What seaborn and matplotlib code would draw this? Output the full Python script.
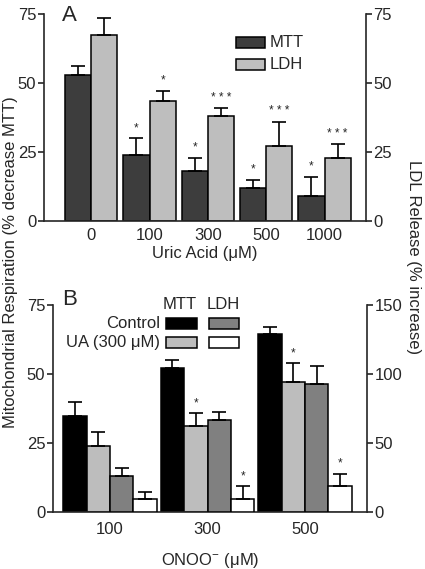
import numpy as np
import pandas as pd
import matplotlib
matplotlib.use("Agg")
import matplotlib.pyplot as plt
from matplotlib.patches import Rectangle
import seaborn as sns

# ---- Panel A data: uric acid dose response ----
dose_a = ["0", "100", "300", "500", "1000"]
mtt_a = [53, 24, 18, 12, 9]
mtt_a_err = [3.2, 6, 5, 3, 7]
mtt_a_sig = ["", "*", "*", "*", "*"]
ldh_a = [67.5, 43.5, 38, 27, 23]
ldh_a_err = [6, 3.7, 3, 9, 5]
ldh_a_sig = ["", "*", "* * *", "* * *", "* * *"]

# ---- Panel B data: ONOO- with / without UA ----
dose_b = ["100", "300", "500"]
ctrl_mtt_b = [34.8, 52.2, 64.4]
ctrl_mtt_b_err = [5.2, 2.9, 2.8]
ua_mtt_b = [24.0, 31.0, 47.0]
ua_mtt_b_err = [4.8, 4.8, 6.9]
ua_mtt_b_sig = ["", "*", "*"]
ctrl_ldh_b = [25.8, 66.8, 92.4]
ctrl_ldh_b_err = [6.0, 6.0, 13.5]
ua_ldh_b = [9.6, 9.6, 18.6]
ua_ldh_b_err = [4.6, 9.0, 9.1]
ua_ldh_b_sig = ["", "*", "*"]

COLORS_A = {"MTT": "#3d3d3d", "LDH": "#bebebe"}
HUE_B = ["Control MTT", "UA MTT", "Control LDH", "UA LDH"]
COLORS_B = {"Control MTT": "#000000", "UA MTT": "#bdbdbd",
            "Control LDH": "#808080", "UA LDH": "#ffffff"}

sns.set_style("ticks")
plt.rcParams["font.family"] = ["Liberation Sans", "DejaVu Sans"]
plt.rcParams["font.size"] = 12
plt.rcParams["axes.linewidth"] = 1.2
plt.rcParams["mathtext.fontset"] = "custom"
plt.rcParams["mathtext.rm"] = "Liberation Sans"


def add_errors(ax, container, vals, errs, sigs=None):
    xs = [b.get_x() + b.get_width() / 2 for b in container]
    ax.errorbar(xs, vals, yerr=[np.zeros(len(vals)), errs], fmt="none",
                ecolor="k", elinewidth=1.2, capsize=5, capthick=1.2, zorder=1)
    if sigs is None:
        return
    for x, v, e, s in zip(xs, vals, errs, sigs):
        if s:
            ax.annotate(s, (x, v + e), xytext=(0, 3), textcoords="offset points",
                        ha="center", va="bottom", fontsize=8.5)


def style_axes(ax, ax2):
    for side in ["top", "right"]:
        ax.spines[side].set_visible(False)
    for side in ["top", "left", "bottom"]:
        ax2.spines[side].set_visible(False)
    ax.tick_params(axis="y", direction="out", length=4, width=1.2, pad=1.5, labelsize=12)
    ax2.tick_params(axis="y", direction="out", length=4, width=1.2, pad=1.5, labelsize=12)
    ax.tick_params(axis="x", length=0, labelsize=12)


fig = plt.figure(figsize=(4.25, 5.69), dpi=100)

# ==============================================================
# Panel A
# ==============================================================
ax_a = fig.add_axes([0.1035, 0.6116, 0.7576, 0.3638])
df_a = pd.DataFrame({
    "dose": dose_a * 2,
    "assay": ["MTT"] * len(dose_a) + ["LDH"] * len(dose_a),
    "value": mtt_a + ldh_a,
})
sns.barplot(data=df_a, x="dose", y="value", hue="assay", order=dose_a,
            hue_order=["MTT", "LDH"], palette=COLORS_A, width=0.9,
            edgecolor="k", linewidth=1.1, errorbar=None, legend=False, ax=ax_a)
conts = [c for c in ax_a.containers if len(c) > 0]
add_errors(ax_a, conts[0], mtt_a, mtt_a_err, mtt_a_sig)
add_errors(ax_a, conts[1], ldh_a, ldh_a_err, ldh_a_sig)
ax_a.set_xlim(-0.81, 4.71)
ax_a.set_ylim(0, 75)
ax_a.set_yticks([0, 25, 50, 75])
ax_a.set_xlabel("Uric Acid (μM)", fontsize=12, labelpad=2)
ax_a.set_ylabel("")
ax_a2 = ax_a.twinx()
ax_a2.set_ylim(0, 75)
ax_a2.set_yticks([0, 25, 50, 75])
style_axes(ax_a, ax_a2)
ax_a.tick_params(axis="x", pad=5)
ax_a.text(0.056, 1.045, "A", transform=ax_a.transAxes, fontsize=16, va="top", ha="left")

# legend A
for i, (lab, col) in enumerate(COLORS_A.items()):
    yb = 0.836 - i * 0.107
    ax_a.add_patch(Rectangle((0.596, yb), 0.090, 0.053, transform=ax_a.transAxes,
                             facecolor=col, edgecolor="k", lw=1.1, clip_on=False))
    ax_a.text(0.700, yb + 0.026, lab, transform=ax_a.transAxes, va="center",
              ha="left", fontsize=12)

# ==============================================================
# Panel B
# ==============================================================
ax_b = fig.add_axes([0.1247, 0.1002, 0.7388, 0.3638])
df_mtt = pd.DataFrame({
    "dose": dose_b * 2,
    "group": ["Control MTT"] * 3 + ["UA MTT"] * 3,
    "value": ctrl_mtt_b + ua_mtt_b,
})
df_ldh = pd.DataFrame({
    "dose": dose_b * 2,
    "group": ["Control LDH"] * 3 + ["UA LDH"] * 3,
    "value": ctrl_ldh_b + ua_ldh_b,
})
sns.barplot(data=df_mtt, x="dose", y="value", hue="group", order=dose_b,
            hue_order=HUE_B, palette=COLORS_B, width=0.96,
            edgecolor="k", linewidth=1.1, errorbar=None, legend=False, ax=ax_b)
ax_b2 = ax_b.twinx()
sns.barplot(data=df_ldh, x="dose", y="value", hue="group", order=dose_b,
            hue_order=HUE_B, palette=COLORS_B, width=0.96,
            edgecolor="k", linewidth=1.1, errorbar=None, legend=False, ax=ax_b2)
cb = [c for c in ax_b.containers if len(c) > 0]
cb2 = [c for c in ax_b2.containers if len(c) > 0]
add_errors(ax_b, cb[0], ctrl_mtt_b, ctrl_mtt_b_err)
add_errors(ax_b, cb[1], ua_mtt_b, ua_mtt_b_err, ua_mtt_b_sig)
add_errors(ax_b2, cb2[0], ctrl_ldh_b, ctrl_ldh_b_err)
add_errors(ax_b2, cb2[1], ua_ldh_b, ua_ldh_b_err, ua_ldh_b_sig)
ax_b.set_xlim(-0.585, 2.636)
ax_b.set_ylim(0, 75)
ax_b.set_yticks([0, 25, 50, 75])
ax_b2.set_ylim(0, 150)
ax_b2.set_yticks([0, 50, 100, 150])
ax_b.set_xlabel("ONOO$^{\\mathregular{-}}$ (μM)", fontsize=12, labelpad=10)
ax_b.set_ylabel("")
ax_b2.set_ylabel("")
style_axes(ax_b, ax_b2)
ax_b.tick_params(axis="x", pad=7)
ax_b.text(0.029, 1.075, "B", transform=ax_b.transAxes, fontsize=16, va="top", ha="left")

# legend B (2 x 2 grid)
ax_b2.text(0.404, 1.0, "MTT", transform=ax_b.transAxes, ha="center", va="center", fontsize=12)
ax_b2.text(0.541, 1.0, "LDH", transform=ax_b.transAxes, ha="center", va="center", fontsize=12)
rows = [("Control", 0.884, 0.055, ["Control MTT", "Control LDH"]),
        ("UA (300 μM)", 0.794, 0.051, ["UA MTT", "UA LDH"])]
for lab, yb, h, keys in rows:
    for xl, w, k in zip([0.359, 0.498], [0.099, 0.095], keys):
        ax_b2.add_patch(Rectangle((xl, yb), w, h, transform=ax_b.transAxes,
                                  facecolor=COLORS_B[k], edgecolor="k", lw=1.1,
                                  clip_on=False))
    ax_b2.text(0.340, yb + h / 2, lab, transform=ax_b.transAxes, ha="right",
               va="center", fontsize=12)

# shared y labels
fig.text(0.024, 0.54, "Mitochondrial Respiration (% decrease MTT)", rotation=90,
         ha="center", va="center", fontsize=12)
fig.text(0.972, 0.548, "LDL Release (% increase)", rotation=-90,
         ha="center", va="center", fontsize=12)

fig.savefig("out.png", dpi=100)
